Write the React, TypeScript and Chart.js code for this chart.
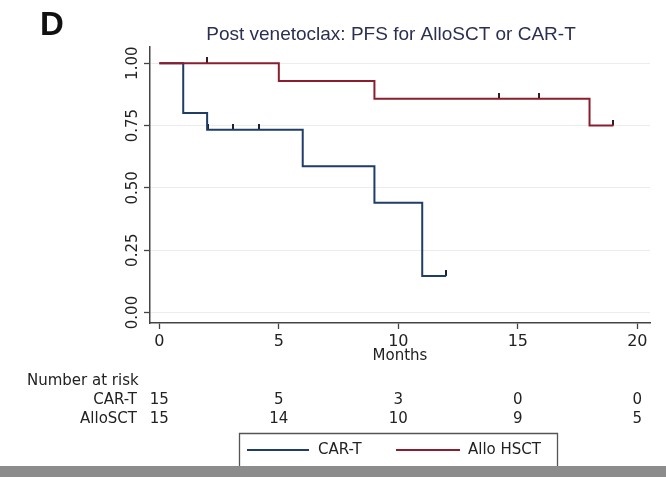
import React, { useEffect, useRef } from "react";
import { Chart, registerables } from "chart.js";
Chart.register(...registerables);

const PANEL = "D";
const TITLE = "Post venetoclax: PFS for AlloSCT or CAR-T";
const X_TITLE = "Months";
const X_TICKS = [0, 5, 10, 15, 20];
const Y_TICKS = [0, 0.25, 0.5, 0.75, 1];

const CART_TIMES = [0, 1, 2, 6, 9, 11, 12];
const CART_SURV = [1, 0.8, 0.733, 0.587, 0.44, 0.147, 0.147];
const CART_CENSOR_TIMES = [2.05, 3.1, 4.15, 12];
const CART_CENSOR_SURV = [0.733, 0.733, 0.733, 0.147];

const ALLO_TIMES = [0, 5, 9, 18, 19];
const ALLO_SURV = [1, 0.929, 0.857, 0.75, 0.75];
const ALLO_CENSOR_TIMES = [2, 14.2, 15.9, 19];
const ALLO_CENSOR_SURV = [1, 0.857, 0.857, 0.75];

const RISK_TIMES = [0, 5, 10, 15, 20];
const CART_RISK = [15, 5, 3, 0, 0];
const ALLO_RISK = [15, 14, 10, 9, 5];
const RISK_HEADER = "Number at risk";
const RISK_ROWS = ["CAR-T", "AlloSCT"];
const LEGEND_LABELS = ["CAR-T", "Allo HSCT"];

const BLUE = "#1f3d66";
const RED = "#8b1e2e";
const FONT = "'DejaVu Sans', sans-serif";

function censorMark(color: string) {
  const c = document.createElement("canvas");
  c.width = 2;
  c.height = 12;
  const g = c.getContext("2d")!;
  g.fillStyle = color;
  g.fillRect(0, 0, 2, 6);
  return c;
}

const zip = (xs: number[], ys: number[]) => xs.map((x, i) => ({ x, y: ys[i] }));

const extras = {
  id: "extras",
  afterDraw(chart: any) {
    const { ctx } = chart;
    const xs = chart.scales.x;
    ctx.save();
    // panel letter
    ctx.fillStyle = "#111";
    ctx.font = "bold 33px 'Liberation Sans', Arial, sans-serif";
    ctx.textAlign = "left";
    ctx.textBaseline = "alphabetic";
    ctx.fillText(PANEL, 40, 35);
    // title
    ctx.fillStyle = "#2b2f52";
    ctx.font = "19px 'Liberation Sans', Arial, sans-serif";
    ctx.textAlign = "center";
    ctx.fillText(TITLE, 391, 40);

    // risk table
    ctx.fillStyle = "#222";
    ctx.font = "15px " + FONT;
    ctx.textBaseline = "middle";
    ctx.textAlign = "left";
    ctx.fillText(RISK_HEADER, 27, 381);
    const rows = [CART_RISK, ALLO_RISK];
    const rowY = [400, 419];
    rows.forEach((vals, r) => {
      ctx.textAlign = "right";
      ctx.fillText(RISK_ROWS[r], 137, rowY[r]);
      ctx.textAlign = "center";
      vals.forEach((v, i) => {
        ctx.fillText(String(v), xs.getPixelForValue(RISK_TIMES[i]), rowY[r]);
      });
    });

    // legend box
    ctx.strokeStyle = "#555";
    ctx.lineWidth = 1.3;
    ctx.beginPath();
    ctx.moveTo(239.5, 477);
    ctx.lineTo(239.5, 433.5);
    ctx.lineTo(557.5, 433.5);
    ctx.lineTo(557.5, 477);
    ctx.stroke();
    const items = [
      { color: BLUE, x0: 247, x1: 309, tx: 318, label: LEGEND_LABELS[0] },
      { color: RED, x0: 396, x1: 460, tx: 468, label: LEGEND_LABELS[1] },
    ];
    items.forEach((it) => {
      ctx.strokeStyle = it.color;
      ctx.lineWidth = 2;
      ctx.beginPath();
      ctx.moveTo(it.x0, 450);
      ctx.lineTo(it.x1, 450);
      ctx.stroke();
      ctx.fillStyle = "#222";
      ctx.textAlign = "left";
      ctx.fillText(it.label, it.tx, 450);
    });

    // bottom gray bar
    ctx.fillStyle = "#8c8c8c";
    ctx.fillRect(0, 466, 666, 11);
    ctx.restore();
  },
};

export default function App() {
  const ref = useRef<HTMLCanvasElement>(null);
  useEffect(() => {
    if (!ref.current) return;
    Chart.defaults.font.family = FONT;
    Chart.defaults.color = "#222";
    const chart = new Chart(ref.current, {
      type: "line",
      data: {
        datasets: [
          {
            label: LEGEND_LABELS[1],
            data: zip(ALLO_TIMES, ALLO_SURV),
            borderColor: RED,
            borderWidth: 2,
            stepped: "before",
            pointRadius: 0,
            fill: false,
          },
          {
            label: LEGEND_LABELS[0],
            data: zip(CART_TIMES, CART_SURV),
            borderColor: BLUE,
            borderWidth: 2,
            stepped: "before",
            pointRadius: 0,
            fill: false,
          },
          {
            type: "scatter",
            label: "AlloCensor",
            data: zip(ALLO_CENSOR_TIMES, ALLO_CENSOR_SURV),
            pointStyle: censorMark("#3a1a1f") as any,
            showLine: false,
          } as any,
          {
            type: "scatter",
            label: "CarTCensor",
            data: zip(CART_CENSOR_TIMES, CART_CENSOR_SURV),
            pointStyle: censorMark("#1a2233") as any,
            showLine: false,
          } as any,
        ],
      },
      options: {
        responsive: false,
        animation: false,
        layout: { padding: { left: 0, top: 47, right: 16, bottom: 112 } },
        plugins: { legend: { display: false }, tooltip: { enabled: false }, title: { display: false } },
        scales: {
          x: {
            type: "linear",
            min: -0.39,
            max: 20.53,
            afterBuildTicks: (s: any) => {
              s.ticks = X_TICKS.map((v) => ({ value: v }));
            },
            afterFit: (s: any) => {
              s.height = 42;
            },
            ticks: { font: { size: 16, family: FONT }, color: "#222", padding: 3, maxRotation: 0 },
            grid: { drawOnChartArea: false, drawTicks: true, tickLength: 6, tickColor: "#444", tickWidth: 1.3 },
            border: { display: true, color: "#444", width: 1.5 },
            title: { display: true, text: X_TITLE, font: { size: 15, family: FONT }, color: "#222", padding: { top: 0, bottom: 0 } },
          },
          y: {
            type: "linear",
            min: -0.042,
            max: 1.065,
            afterBuildTicks: (s: any) => {
              s.ticks = Y_TICKS.map((v) => ({ value: v }));
            },
            afterFit: (s: any) => {
              s.width = 150;
            },
            ticks: {
              font: { size: 15, family: FONT },
              color: "#222",
              minRotation: 90,
              maxRotation: 90,
              crossAlign: "center",
              padding: -6,
              callback: (v: any) => Number(v).toFixed(2),
            },
            grid: { color: "#ececec", lineWidth: 1, drawTicks: true, tickLength: 6, tickColor: "#444", tickWidth: 1.3 },
            border: { display: true, color: "#444", width: 1.5 },
          },
        },
      },
      plugins: [extras],
    });
    return () => chart.destroy();
  }, []);
  return (
    <div style={{ position: "absolute", left: 0, top: 0, width: 666, height: 477, background: "#fff" }}>
      <canvas ref={ref} width={666} height={477} />
    </div>
  );
}
